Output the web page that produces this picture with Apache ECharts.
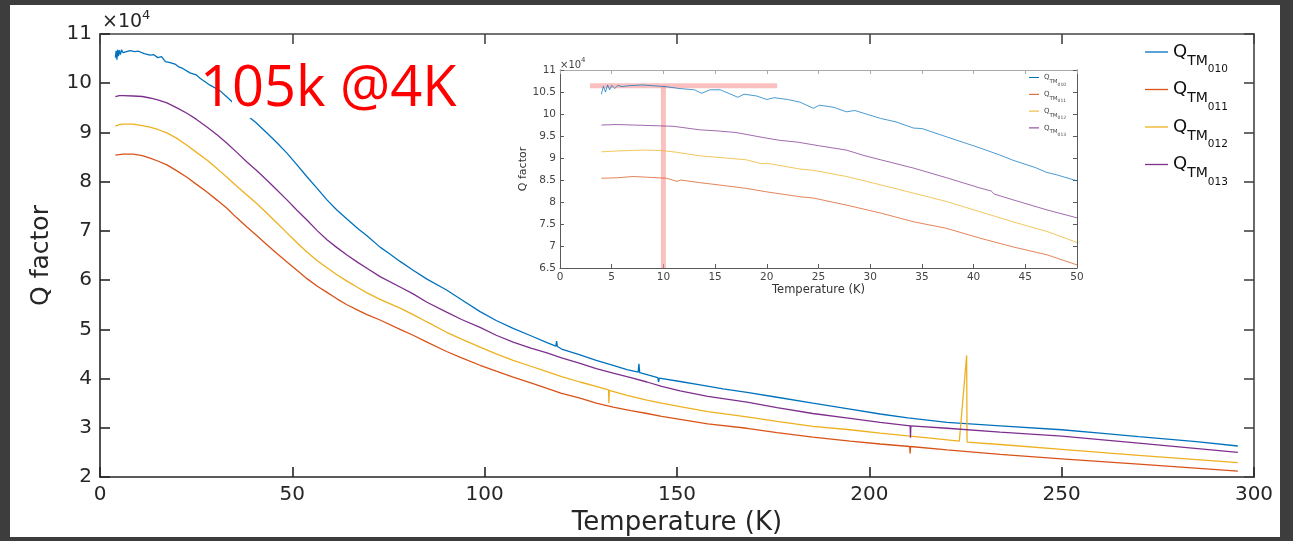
<!DOCTYPE html>
<html>
<head>
<meta charset="utf-8">
<script src="https://cdn.jsdelivr.net/npm/echarts@6/dist/echarts.min.js"></script>
<style>
html,body{margin:0;padding:0;background:#3d3d3d;}
#wrap{position:relative;width:1293px;height:541px;background:#3d3d3d;overflow:hidden;}
#paper{position:absolute;left:10px;top:5px;width:1270px;height:532px;background:#fff;}
#c{position:absolute;left:0;top:0;width:1293px;height:541px;}
</style>
</head>
<body>
<div id="wrap"><div id="paper"></div><div id="c"></div></div>
<script>
// ---------- data (Q in units of 1e4, T in K) ----------
const seriesNames = ['Q_TM010', 'Q_TM011', 'Q_TM012', 'Q_TM013'];
const seriesColors = ['#0072BD', '#D95319', '#EDB120', '#7E2F8E'];

const mainTM010 = [[4.0,10.52],[4.2,10.66],[4.4,10.48],[4.6,10.68],[4.8,10.55],[5.0,10.67],[5.3,10.58],[5.6,10.68],[6.0,10.62],[6.5,10.66],[7.8,10.66],[9,10.64],[10,10.65],[11.5,10.6],[13,10.57],[14,10.58],[15,10.52],[16,10.54],[17,10.44],[18.2,10.42],[19.5,10.39],[20.5,10.33],[21.5,10.3],[23.4,10.21],[25,10.17],[26,10.1],[28.6,9.96],[31,9.86],[33,9.72],[36,9.5],[38.2,9.35],[40.5,9.2],[43.4,8.99],[46,8.79],[48.6,8.58],[51,8.36],[53.8,8.1],[56.5,7.86],[59,7.63],[61.5,7.43],[64.2,7.24],[67,7.05],[69.4,6.9],[72.8,6.67],[75,6.55],[78,6.38],[81.4,6.2],[85,6.02],[90.1,5.8],[94,5.6],[98.8,5.36],[103,5.18],[107.4,5.02],[112,4.87],[116.2,4.73],[118.5,4.66],[118.7,4.76],[118.9,4.65],[120,4.6],[124.8,4.48],[129,4.37],[133.4,4.27],[137,4.18],[139.9,4.13],[140.1,4.3],[140.3,4.12],[142.2,4.08],[145,4.02],[145.2,3.93],[145.4,4.01],[150.8,3.94],[156,3.87],[162,3.79],[168.2,3.72],[176,3.62],[185.3,3.5],[195,3.38],[202.8,3.28],[210,3.2],[220.2,3.11],[234,3.04],[250,2.96],[260,2.89],[270,2.82],[285,2.72],[295.8,2.63]];
const mainTM011 = [[4,8.54],[5,8.55],[6,8.56],[8.6,8.56],[11,8.53],[13,8.48],[15,8.42],[17.4,8.34],[20,8.22],[22.6,8.09],[25,7.95],[27.8,7.79],[30.5,7.62],[33,7.46],[35.5,7.27],[38.2,7.08],[40.8,6.9],[43.4,6.72],[46,6.54],[48.6,6.37],[51.2,6.2],[53.8,6.03],[56.4,5.88],[59,5.75],[61.6,5.62],[64.2,5.5],[67,5.39],[69.4,5.3],[72.8,5.19],[78,5.0],[81.4,4.88],[85,4.74],[90.1,4.55],[94,4.42],[98.8,4.27],[103,4.15],[107.4,4.03],[112,3.91],[116.2,3.8],[120,3.7],[124.8,3.6],[129,3.5],[133.4,3.42],[138,3.35],[142.2,3.29],[146,3.23],[150.8,3.17],[158,3.08],[168.2,2.99],[176,2.9],[185.3,2.81],[195,2.73],[202.8,2.67],[210.5,2.62],[210.6,2.48],[210.7,2.62],[220.2,2.55],[234,2.46],[250,2.37],[270,2.26],[295.8,2.12]];
const mainTM012 = [[4,9.13],[5,9.16],[6,9.17],[8.6,9.17],[11,9.14],[13,9.11],[15,9.06],[17.4,8.99],[20,8.88],[22.6,8.74],[25,8.6],[27.8,8.44],[30.5,8.26],[33,8.09],[35.5,7.91],[38.2,7.73],[40.8,7.55],[43.4,7.36],[46,7.16],[48.6,6.96],[51.2,6.76],[53.8,6.57],[56.4,6.4],[59,6.25],[61.6,6.11],[64.2,5.98],[67,5.85],[69.4,5.74],[72.8,5.61],[78,5.43],[81.4,5.3],[85,5.15],[90.1,4.94],[94,4.8],[98.8,4.64],[103,4.5],[107.4,4.37],[112,4.25],[116.2,4.14],[120,4.04],[124.8,3.93],[128.5,3.85],[132.2,3.77],[132.3,3.5],[132.4,3.76],[137,3.66],[142.2,3.56],[146,3.5],[150.8,3.43],[158,3.33],[168.2,3.22],[176,3.13],[185.3,3.03],[195,2.96],[202.8,2.89],[212,2.82],[223.4,2.73],[225.3,4.47],[225.4,2.71],[234,2.66],[250,2.56],[270,2.44],[295.8,2.29]];
const mainTM013 = [[4,9.73],[5,9.75],[6,9.75],[8.6,9.74],[11,9.73],[13,9.7],[15,9.66],[17.4,9.6],[20,9.5],[22.6,9.39],[25,9.27],[27.8,9.11],[30.5,8.95],[33,8.78],[35.5,8.6],[38.2,8.4],[40.8,8.22],[43.4,8.03],[46,7.83],[48.6,7.63],[51.2,7.42],[53.8,7.22],[56.4,7.01],[59,6.82],[61.6,6.66],[64.2,6.51],[67,6.36],[69.4,6.24],[72.8,6.07],[78,5.86],[81.4,5.72],[85,5.55],[90.1,5.35],[94,5.2],[98.8,5.04],[103,4.88],[107.4,4.74],[112,4.62],[116.2,4.52],[120,4.42],[124.8,4.31],[129,4.2],[133.4,4.11],[138,4.02],[142.2,3.93],[146,3.84],[150.8,3.75],[158,3.64],[168.2,3.52],[176,3.41],[185.3,3.29],[195,3.19],[202.8,3.11],[210.6,3.04],[210.7,2.8],[210.8,3.04],[220.2,2.99],[234,2.91],[250,2.83],[270,2.69],[295.8,2.5]];

// inset (zoom 0-50 K)
const insetTM010 = [[4,10.45],[4.2,10.63],[4.4,10.5],[4.6,10.66],[4.8,10.55],[5.0,10.65],[5.3,10.58],[5.6,10.65],[6,10.62],[6.5,10.64],[8,10.66],[10.3,10.62],[11.5,10.58],[13,10.55],[13.7,10.47],[14.5,10.55],[15.5,10.55],[16.5,10.45],[17.2,10.38],[17.8,10.45],[19,10.41],[20,10.33],[20.7,10.37],[22,10.33],[23.2,10.27],[24.5,10.13],[25.1,10.2],[26.5,10.15],[27.7,10.05],[28.5,10.08],[31,9.9],[32.5,9.82],[34.2,9.68],[35,9.67],[37.4,9.48],[40.6,9.23],[42.5,9.07],[43.8,8.95],[46,8.78],[47.1,8.67],[48,8.62],[50,8.48]];
const insetTM011 = [[4,8.54],[5.5,8.55],[7.1,8.58],[10.3,8.54],[11.3,8.47],[11.7,8.5],[13.5,8.44],[16,8.37],[18,8.31],[20,8.23],[23.2,8.12],[24.5,8.09],[27.7,7.93],[31,7.75],[34.2,7.55],[37.4,7.4],[40.6,7.18],[43.8,6.98],[47.1,6.8],[50,6.57]];
const insetTM012 = [[4,9.14],[5.5,9.16],[8,9.18],[9.7,9.17],[11,9.14],[13.5,9.05],[16,9.0],[18,8.96],[19.5,8.87],[20,8.88],[21.5,8.82],[23.2,8.75],[24.5,8.72],[27.7,8.58],[31,8.39],[34.2,8.2],[37.4,8.01],[40.6,7.78],[43.8,7.55],[47.1,7.33],[50,7.08]];
const insetTM013 = [[4,9.75],[5.5,9.76],[7,9.75],[9.7,9.73],[11,9.72],[13.5,9.64],[15,9.62],[17,9.58],[20,9.45],[21.3,9.4],[23,9.36],[25,9.28],[27.7,9.18],[29.5,9.05],[31,8.96],[34.2,8.77],[37.4,8.55],[40.6,8.32],[41.7,8.25],[42,8.18],[43.8,8.05],[47.1,7.82],[50,7.64]];

// highlight marks drawn on the inset
const highlightH = [[2.9,10.64],[21,10.64]];
const highlightV = [[10,6.5],[10,10.64]];

// axis ranges [min, max, interval]
const mainX = [0, 300, 50];
const mainY = [2, 11, 1];
const insetX = [0, 50, 5];
const insetY = [6.5, 11, 0.5];

const annotation = '105k @4K';
const xName = 'Temperature (K)';
const yName = 'Q factor';

// ---------- chart ----------
const F = 'DejaVu Sans';
const axisDark = '#262626';
const chart = echarts.init(document.getElementById('c'), null, {renderer:'canvas'});

function valAxis(grid, pos, r, opts){
  const base = {
    type:'value', gridIndex:grid, position:pos, min:r[0], max:r[1], interval:r[2],
    splitLine:{show:false},
    axisLine:{show:true, onZero:false, lineStyle:{color:opts.lineColor, width:opts.lineWidth}},
    axisTick:{show:true, inside:true, length:opts.tick, lineStyle:{color:opts.lineColor, width:opts.lineWidth}},
    axisLabel:{show:opts.label, color:opts.labelColor, fontFamily:F, fontSize:opts.fs, margin:opts.margin, hideOverlap:false},
  };
  return Object.assign(base, opts.extra || {});
}

const mainAxOpt = {lineColor:axisDark, lineWidth:1.6, tick:10, labelColor:axisDark, fs:20, margin:8};
const insetAxOpt = {lineColor:'#5a5a5a', lineWidth:1, tick:4, labelColor:'#444', fs:10.5, margin:4};

const richMain = {
  q:{fontFamily:F, fontSize:18, lineHeight:18, color:'#111', verticalAlign:'top'},
  tm:{fontFamily:F, fontSize:14, lineHeight:14, color:'#111', verticalAlign:'top', padding:[11,0,0,0]},
  n:{fontFamily:F, fontSize:10.5, lineHeight:11, color:'#111', verticalAlign:'top', padding:[21,0,0,0]}
};
const richInset = {
  q:{fontFamily:F, fontSize:7, lineHeight:7, color:'#444', verticalAlign:'top'},
  tm:{fontFamily:F, fontSize:5.5, lineHeight:6, color:'#444', verticalAlign:'top', padding:[4.5,0,0,0]},
  n:{fontFamily:F, fontSize:4.5, lineHeight:5, color:'#444', verticalAlign:'top', padding:[8,0,0,0]}
};
const legendFmt = name => '{q|Q}{tm|TM}{n|' + name.split('_TM')[1] + '}';

const mainData = [mainTM010, mainTM011, mainTM012, mainTM013];
const insetData = [insetTM010, insetTM011, insetTM012, insetTM013];

const series = [];
mainData.forEach((d,i)=>series.push({
  type:'line', name:seriesNames[i], xAxisIndex:0, yAxisIndex:0, data:d,
  symbol:'none', showSymbol:false, smooth:false, color:seriesColors[i],
  lineStyle:{width:1.3, color:seriesColors[i]}, z:3+i
}));
series.push({type:'line', name:'hlH', xAxisIndex:2, yAxisIndex:2, data:highlightH, symbol:'none',
  lineStyle:{width:5, color:'rgba(246,150,150,0.6)'}, z:2, silent:true});
series.push({type:'line', name:'hlV', xAxisIndex:2, yAxisIndex:2, data:highlightV, symbol:'none',
  lineStyle:{width:5, color:'rgba(246,150,150,0.6)'}, z:2, silent:true});
insetData.forEach((d,i)=>series.push({
  type:'line', name:seriesNames[i], xAxisIndex:2, yAxisIndex:2, data:d,
  symbol:'none', showSymbol:false, color:seriesColors[i],
  lineStyle:{width:0.9, color:seriesColors[i], opacity:0.8}, z:3+i
}));

const option = {
  backgroundColor:'transparent',
  animation:false,
  grid:[
    {left:100, top:34, width:1154, height:443, outerBoundsMode:'none', containLabel:false},
    {left:560, top:70, width:517, height:198, outerBoundsMode:'none', containLabel:false}
  ],
  xAxis:[
    valAxis(0,'bottom',mainX,Object.assign({},mainAxOpt,{label:true, extra:{
      name:xName, nameLocation:'middle', nameGap:32,
      nameTextStyle:{fontFamily:F, fontSize:26, color:axisDark}}})),
    valAxis(0,'top',mainX,Object.assign({},mainAxOpt,{label:false, lineColor:'#444'})),
    valAxis(1,'bottom',insetX,Object.assign({},insetAxOpt,{label:true, extra:{
      name:xName, nameLocation:'middle', nameGap:16,
      nameTextStyle:{fontFamily:F, fontSize:11.5, color:'#333'}}})),
    valAxis(1,'top',insetX,Object.assign({},insetAxOpt,{label:false, lineColor:'#aaa'}))
  ],
  yAxis:[
    valAxis(0,'left',mainY,Object.assign({},mainAxOpt,{label:true, extra:{
      name:yName, nameLocation:'middle', nameRotate:90, nameGap:46,
      nameTextStyle:{fontFamily:F, fontSize:25, color:axisDark}}})),
    valAxis(0,'right',mainY,Object.assign({},mainAxOpt,{label:false, lineColor:'#444'})),
    valAxis(1,'left',insetY,Object.assign({},insetAxOpt,{label:true, extra:{
      name:yName, nameLocation:'middle', nameRotate:90, nameGap:30,
      nameTextStyle:{fontFamily:F, fontSize:11, color:'#333'}}})),
    valAxis(1,'right',insetY,Object.assign({},insetAxOpt,{label:false}))
  ],
  legend:[
    {data:seriesNames, orient:'vertical', left:1145, top:43, padding:0, itemGap:5.5,
     icon:'rect', itemWidth:23, itemHeight:1.3, selectedMode:false,
     formatter:legendFmt, textStyle:{rich:richMain}},
    {data:seriesNames, orient:'vertical', left:1029, top:74, padding:0, itemGap:3.8,
     icon:'rect', itemWidth:10, itemHeight:1, selectedMode:false,
     formatter:legendFmt, textStyle:{rich:richInset}}
  ],
  graphic:[
    {type:'text', x:102, y:9, z:50, silent:true, style:{
      text:'{a|×10}{b|4}', fill:axisDark, rich:{
        a:{fontFamily:F, fontSize:19, lineHeight:19, fill:axisDark, verticalAlign:'top', padding:[4,0,0,0]},
        b:{fontFamily:F, fontSize:13, lineHeight:13, fill:axisDark, verticalAlign:'top'}}}},
    {type:'text', x:560, y:57, z:50, silent:true, style:{
      text:'{a|×10}{b|4}', fill:'#444', rich:{
        a:{fontFamily:F, fontSize:10, lineHeight:10, fill:'#444', verticalAlign:'top', padding:[3,0,0,0]},
        b:{fontFamily:F, fontSize:7, lineHeight:7, fill:'#444', verticalAlign:'top'}}}},
    {type:'text', x:200, y:64, z:100, silent:true, style:{
      text:'{a|' + annotation.slice(0,1) + '}{b|' + annotation.slice(1) + '}',
      fill:'#ff0000',
      rich:{
        a:{fontFamily:'Open Sans', fontSize:56, lineHeight:52, fill:'#ff0000'},
        b:{fontFamily:'Open Sans', fontSize:56, lineHeight:52, fill:'#ff0000', backgroundColor:'#ffffff'}}}}
  ],
  series:series
};
chart.setOption(option);
</script>
</body>
</html>
